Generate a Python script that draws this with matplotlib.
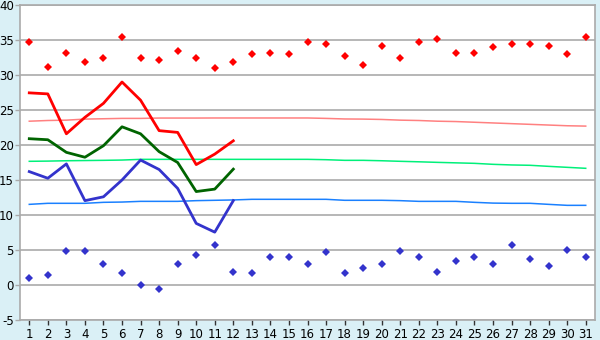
import numpy as np
import matplotlib
matplotlib.use('Agg')
import matplotlib.pyplot as plt

plt.rcParams['axes.unicode_minus'] = False

# Daily temperatures for one month

days = list(range(1, 32))

# daily maxima / minima (diamonds)
t_max = [34.7, 31.1, 33.1, 31.9, 32.5, 35.4, 32.4, 32.2, 33.5, 32.4,
         30.95, 31.8, 32.95, 33.2, 32.95, 34.7, 34.5, 32.7, 31.5, 34.2,
         32.4, 34.7, 35.2, 33.2, 33.2, 33.95, 34.5, 34.4, 34.1, 32.95, 35.4]
t_min = [0.95, 1.4, 4.8, 4.8, 2.95, 1.7, 0.0, -0.6, 2.95, 4.25,
         5.7, 1.8, 1.7, 3.95, 3.95, 2.95, 4.7, 1.7, 2.4, 2.95,
         4.85, 3.95, 1.8, 3.4, 3.95, 2.95, 5.7, 3.7, 2.7, 4.95, 3.95]

# thick lines, first 12 days only
line_days = list(range(1, 13))
red_line = [27.45, 27.3, 21.6, 23.95, 25.95, 29.0, 26.4, 22.05, 21.8, 17.2, 18.7, 20.6]
green_line = [20.9, 20.75, 18.95, 18.25, 19.9, 22.6, 21.6, 19.05, 17.5, 13.35, 13.7, 16.55]
blue_line = [16.2, 15.25, 17.3, 12.05, 12.6, 15.0, 17.85, 16.5, 13.8, 8.8, 7.55, 12.05]

# normals (thin lines)
norm_red = [23.4, 23.5, 23.55, 23.7, 23.75, 23.8, 23.8, 23.85, 23.85, 23.85,
            23.86, 23.86, 23.86, 23.86, 23.86, 23.86, 23.8, 23.72, 23.7, 23.65,
            23.55, 23.5, 23.4, 23.35, 23.25, 23.15, 23.05, 22.95, 22.85, 22.75, 22.7]
norm_green = [17.67, 17.7, 17.75, 17.78, 17.81, 17.85, 17.95, 17.95, 17.95, 17.95,
              17.95, 17.95, 17.95, 17.95, 17.95, 17.95, 17.9, 17.81, 17.81, 17.75,
              17.67, 17.6, 17.52, 17.45, 17.38, 17.24, 17.15, 17.1, 16.95, 16.81, 16.67]
norm_blue = [11.52, 11.67, 11.67, 11.67, 11.81, 11.85, 11.95, 11.95, 11.95, 12.05,
             12.1, 12.15, 12.24, 12.24, 12.24, 12.24, 12.24, 12.1, 12.1, 12.1,
             12.05, 11.95, 11.95, 11.95, 11.81, 11.7, 11.67, 11.67, 11.52, 11.38, 11.38]

bg = '#daf0f6'
grey = '#aaaaaa'

fig = plt.figure(figsize=(6, 3.4), dpi=100, facecolor=bg)
ax = fig.add_axes([20 / 600, 20 / 340, 575 / 600, 315 / 340])
ax.set_facecolor('white')

ax.plot(days, norm_red, color='#ff8080', lw=1.1)
ax.plot(days, norm_green, color='#00f07a', lw=1.1)
ax.plot(days, norm_blue, color='#1a80ff', lw=1.1)

ax.plot(line_days, red_line, color='#ff0000', lw=2.0)
ax.plot(line_days, green_line, color='#006400', lw=2.0)
ax.plot(line_days, blue_line, color='#3333cc', lw=2.0)

ax.plot(days, t_max, 'D', color='#ff0000', markersize=3.8, markeredgewidth=0)
ax.plot(days, t_min, 'D', color='#3333cc', markersize=3.8, markeredgewidth=0)

ax.set_xlim(0.5, 31.5)
ax.set_ylim(-5, 40)
ax.set_xticks(days)
ax.set_yticks(range(-5, 41, 5))
ax.yaxis.grid(True, color=grey, lw=1.2)
ax.set_axisbelow(True)

for s in ax.spines.values():
    s.set_color(grey)
    s.set_linewidth(1.2)

ax.tick_params(axis='both', colors='black', labelsize=8.5, length=3.5, width=1)
ax.tick_params(axis='x', color='#333333', pad=2)
ax.tick_params(axis='y', color=grey, pad=1)

fig.savefig('out.png', dpi=100, facecolor=bg)
